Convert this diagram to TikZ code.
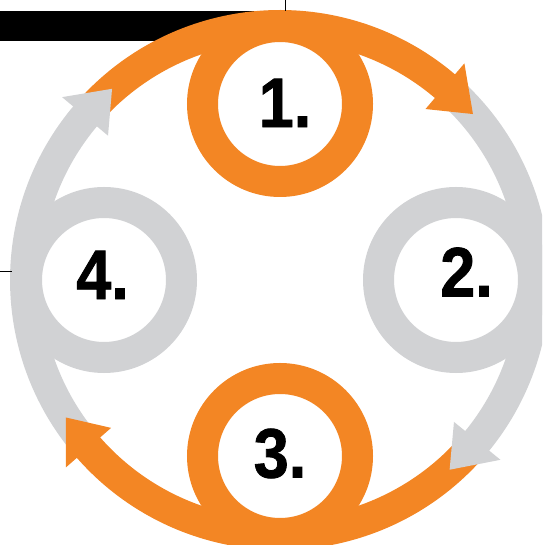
\documentclass[tikz,border=0pt]{standalone}
\usepackage{fontspec}
\setmainfont{Liberation Sans}
\newfontfamily\numfont{Liberation Sans}[FakeBold=1.2]
\definecolor{org}{RGB}{243,134,36}
\definecolor{gry}{RGB}{209,210,212}
\begin{document}
\begin{tikzpicture}[x=1pt,y=1pt,
  band/.style={line width=31pt},
  ringnode/.style={circle,minimum size=155pt,line width=31pt,fill=white,inner sep=0pt},
  num/.style={inner sep=0pt,xscale=0.9,font=\numfont\bfseries\fontsize{70}{70}\selectfont},
  cropline/.style={line width=0.9pt}]
\useasboundingbox (0,0) rectangle (542,545);
\clip (0,0) rectangle (542,545);
\coordinate (O) at (280,265);
% black bar
\fill[black] (0,504) rectangle (275,534);
% bands
\draw[band,org] ([shift={(139.5:254.5)}]O) arc[start angle=139.5,end angle=47.6,radius=254.5];
\draw[band,gry] ([shift={(49.1:254.5)}]O) arc[start angle=49.1,end angle=-41.2,radius=254.5];
\draw[band,org] ([shift={(-39.7:254.5)}]O) arc[start angle=-39.7,end angle=-140.8,radius=254.5];
\draw[band,gry] ([shift={(220.7:254.5)}]O) arc[start angle=220.7,end angle=138,radius=254.5];
% heads
\fill[org] ([shift={(40.7:254.5)}]O) -- ([shift={(49.6:284.5)}]O) -- ([shift={(49.6:224.5)}]O) -- cycle;
\fill[gry] ([shift={(-48.2:254.5)}]O) -- ([shift={(-39.2:284.5)}]O) -- ([shift={(-39.2:224.5)}]O) -- cycle;
\fill[org] ([shift={(212.7:254.5)}]O) -- ([shift={(221.2:284.5)}]O) -- ([shift={(221.2:224.5)}]O) -- cycle;
\fill[gry] ([shift={(131.3:254.5)}]O) -- ([shift={(140.0:284.5)}]O) -- ([shift={(140.0:224.5)}]O) -- cycle;
% rings
\node[ringnode,draw=org] (c1) at (280,441) {};
\node[ringnode,draw=gry] (c2) at (456,265) {};
\node[ringnode,draw=org] (c3) at (280,89) {};
\node[ringnode,draw=gry] (c4) at (104,265) {};
% numbers
\node[num] (t1) at (285,442) {1.};
\node[num] (t2) at (466.5,273) {2.};
\node[num] (t3) at (280,91.5) {3.};
\node[num] (t4) at (102.5,270) {4.};
% crop marks
\draw[cropline] (285,545) -- (285,534);
\draw[cropline] (0,273.3) -- (11.7,273.3);
\end{tikzpicture}
\end{document}
